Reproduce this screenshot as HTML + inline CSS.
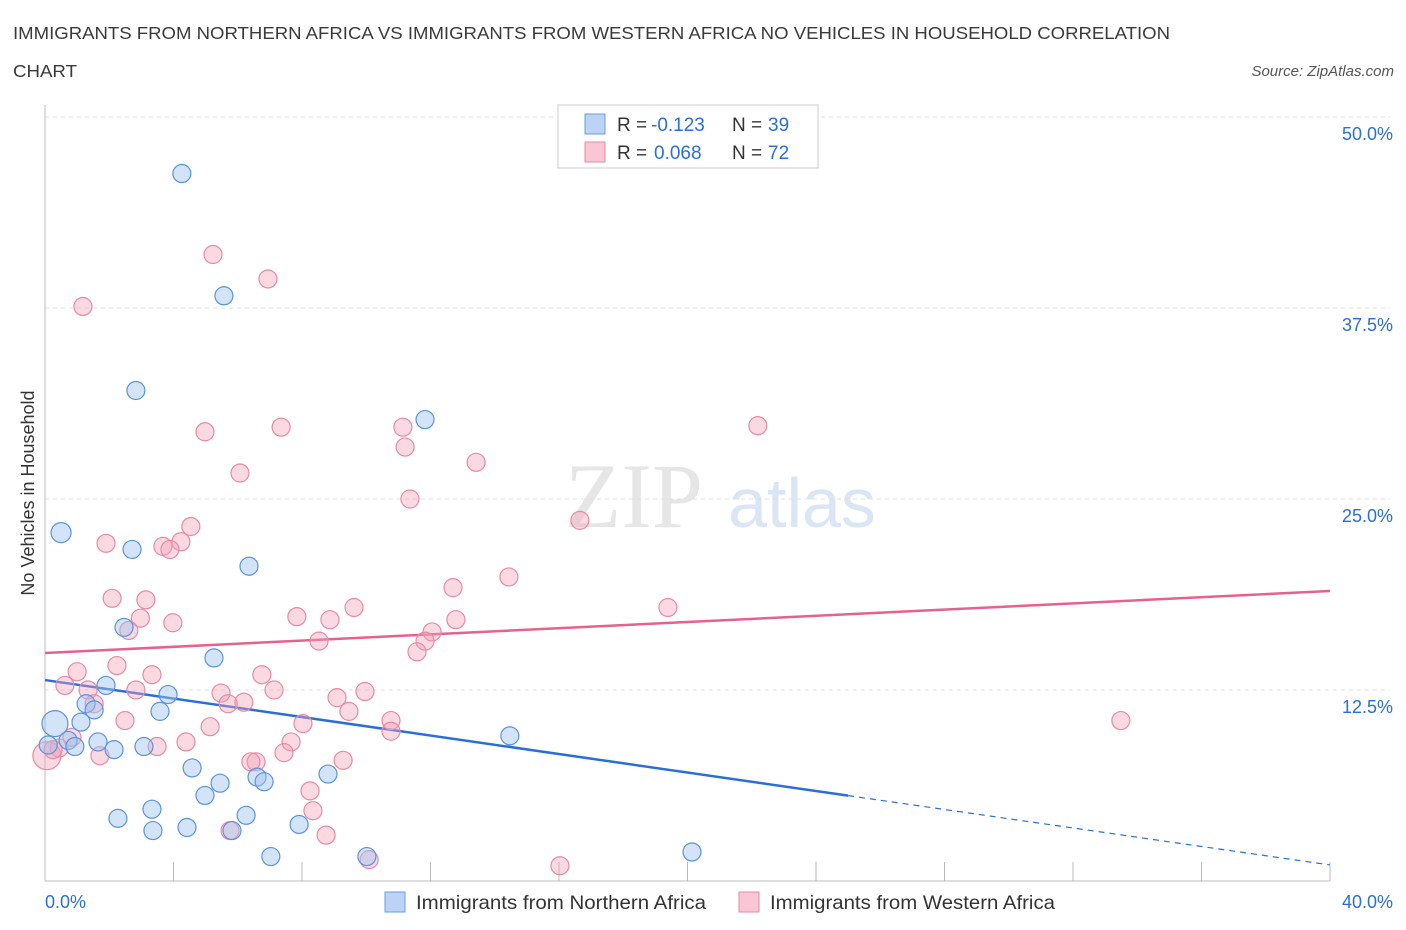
<!DOCTYPE html>
<html><head><meta charset="utf-8"><style>
body{margin:0;background:#fff;font-family:"Liberation Sans",sans-serif;}
svg{display:block}
</style></head><body>
<svg id="chart" width="1406" height="930">
<text x="13" y="39" font-size="17.5" fill="#3a3a3a" textLength="1157" lengthAdjust="spacingAndGlyphs">IMMIGRANTS FROM NORTHERN AFRICA VS IMMIGRANTS FROM WESTERN AFRICA NO VEHICLES IN HOUSEHOLD CORRELATION</text>
<text x="13" y="77" font-size="17.5" fill="#3a3a3a" textLength="64" lengthAdjust="spacingAndGlyphs">CHART</text>
<text x="1394" y="76" font-size="15" font-style="italic" fill="#555" text-anchor="end">Source: ZipAtlas.com</text>
<g>
<text x="634" y="527" font-size="92" font-family="Liberation Serif" fill="#e6e6e6" text-anchor="middle">ZIP</text>
<text x="802" y="527" font-size="70" fill="#dbe6f5" text-anchor="middle">atlas</text>
</g>
<g id="grid"></g>
<g id="axes"></g>
<g id="trends"></g>
<g id="points"></g>
<text transform="translate(34,493) rotate(-90)" font-size="18" fill="#333" text-anchor="middle">No Vehicles in Household</text>
<g>
<rect x="558" y="105" width="260" height="63" fill="#fff" stroke="#ccc"/>
<rect x="585" y="114" width="20" height="20" fill="#bcd3f5" stroke="#6a9de0"/>
<text x="617" y="131" font-size="19" fill="#333">R =</text>
<text x="651" y="131" font-size="19" fill="#2a6fd6">-0.123</text>
<text x="732" y="131" font-size="19" fill="#333">N =</text>
<text x="768" y="131" font-size="19" fill="#2a6fd6">39</text>
<rect x="585" y="142" width="20" height="20" fill="#f8c6d4" stroke="#e68aa5"/>
<text x="617" y="159" font-size="19" fill="#333">R =</text>
<text x="654" y="159" font-size="19" fill="#2a6fd6">0.068</text>
<text x="732" y="159" font-size="19" fill="#333">N =</text>
<text x="768" y="159" font-size="19" fill="#2a6fd6">72</text>
</g>
<g>
<rect x="385" y="892" width="20" height="20" fill="#bcd3f5" stroke="#6a9de0"/>
<text x="416" y="909" font-size="19.5" fill="#333" textLength="290" lengthAdjust="spacingAndGlyphs">Immigrants from Northern Africa</text>
<rect x="739" y="892" width="20" height="20" fill="#f8c6d4" stroke="#e68aa5"/>
<text x="770" y="909" font-size="19.5" fill="#333" textLength="285" lengthAdjust="spacingAndGlyphs">Immigrants from Western Africa</text>
</g>
</svg>
<script>
const blueX=[4.26,5.57,2.83,11.83,0.50,2.71,6.35,2.46,5.26,1.90,3.83,1.28,1.53,3.58,0.31,1.12,14.47,0.72,1.65,0.93,2.15,3.08,4.58,5.45,8.81,6.60,6.82,3.33,4.98,6.26,2.27,3.36,4.42,5.82,7.91,7.03,10.02,20.14,0.10];
const blueY=[46.3,38.3,32.1,30.2,22.8,21.7,20.6,16.6,14.6,12.8,12.2,11.6,11.2,11.1,10.3,10.4,9.5,9.2,9.1,8.8,8.6,8.8,7.4,6.4,7.0,6.8,6.5,4.7,5.6,4.3,4.1,3.3,3.5,3.3,3.7,1.6,1.6,1.9,8.9];
const blueSize=[9,9,9,9,10,9,9,9,9,9,9,9,9,9,13,9,9,9,9,9,9,9,9,9,9,9,9,9,9,9,9,9,9,9,9,9,9,9,9];
const pinkX=[5.23,6.94,1.18,4.98,7.35,11.14,22.19,11.21,13.42,6.07,11.36,16.65,4.54,1.90,4.23,3.67,3.89,14.44,12.70,2.09,3.14,19.39,9.62,7.84,2.97,8.87,12.79,3.98,2.61,12.05,8.53,11.83,11.58,2.24,1.00,3.33,6.75,0.62,1.34,2.83,7.13,5.48,9.96,9.09,6.19,5.70,1.53,9.46,2.49,5.14,8.03,10.77,10.77,33.49,0.84,4.39,7.66,3.49,0.06,0.44,1.71,7.44,6.57,6.41,9.28,8.25,8.34,5.76,8.75,10.09,16.03,0.25];
const pinkY=[41.0,39.4,37.6,29.4,29.7,29.7,29.8,28.4,27.4,26.7,25.0,23.6,23.2,22.1,22.2,21.9,21.7,19.9,19.2,18.5,18.4,17.9,17.9,17.3,17.2,17.1,17.1,16.9,16.4,16.3,15.7,15.7,15.0,14.1,13.7,13.5,13.5,12.8,12.5,12.5,12.5,12.3,12.4,12.0,11.7,11.6,11.6,11.1,10.5,10.1,10.3,10.5,9.8,10.5,9.4,9.1,9.1,8.8,8.2,8.7,8.2,8.4,7.8,7.8,7.9,5.9,4.6,3.3,3.0,1.4,1.0,8.6];
const blueTrend=[13.15,1.05];
const blueSolidEnd=25.0;
const pinkTrend=[14.92,18.98];
const yTicks=[12.5,25,37.5,50];
const yTickLabels=["12.5%","25.0%","37.5%","50.0%"];
const xTicks=[0,4,8,12,16,20,24,28,32,36,40];
const xTickLabels=["0.0%","40.0%"];

const NS="http://www.w3.org/2000/svg";
const X0=45,X1=1330,Y0=881,Y1=117;
const sx=v=>X0+(v/40)*(X1-X0);
const sy=v=>Y0-(v/50)*(Y0-Y1);
function mk(tag,attrs,parent){const e=document.createElementNS(NS,tag);for(const k in attrs)e.setAttribute(k,attrs[k]);parent.appendChild(e);return e;}
const grid=document.getElementById('grid'),axes=document.getElementById('axes'),trends=document.getElementById('trends'),pts=document.getElementById('points');
yTicks.forEach((t,i)=>{
  const l=mk('line',{x1:X0,x2:X1+60,y1:sy(t),y2:sy(t),stroke:'#e0e0e0','stroke-dasharray':'4,4'},grid);
  
  
  const tx=mk('text',{x:1393,y:sy(t)+23,'font-size':18,fill:'#2a6fd6','text-anchor':'end'},grid);
  tx.textContent=yTickLabels[i];
  
  
});
const ya=mk('line',{x1:X0,x2:X0,y1:105,y2:Y0,stroke:'#bbb'},axes);


const xa=mk('line',{x1:X0,x2:X1,y1:Y0,y2:Y0,stroke:'#bbb'},axes);


xTicks.forEach(t=>{
  const l=mk('line',{x1:sx(t),x2:sx(t),y1:862,y2:Y0,stroke:'#bbb'},axes);
  
  
});
const xl0=mk('text',{x:45,y:908,'font-size':18,fill:'#2a6fd6'},axes);
xl0.textContent=xTickLabels[0];


const xl1=mk('text',{x:1393,y:908,'font-size':18,fill:'#2a6fd6','text-anchor':'end'},axes);
xl1.textContent=xTickLabels[1];



pinkX.forEach((x,i)=>{
  const c=mk('circle',{cx:sx(x),cy:sy(pinkY[i]),r:(i==58?14:9),fill:'rgba(244,160,186,0.4)',stroke:'#e88aa7','stroke-width':1.2},pts);
  
  
});
blueX.forEach((x,i)=>{
  const c=mk('circle',{cx:sx(x),cy:sy(blueY[i]),r:blueSize[i],fill:'rgba(160,196,240,0.45)',stroke:'#5b93dc','stroke-width':1.2},pts);
  
  
});
const bAt=x=>blueTrend[0]+(blueTrend[1]-blueTrend[0])*x/40;
const pt=mk('line',{x1:sx(0),y1:sy(pinkTrend[0]),x2:sx(40),y2:sy(pinkTrend[1]),stroke:'#e4628c','stroke-width':2.5},trends);


const bt=mk('line',{x1:sx(0),y1:sy(bAt(0)),x2:sx(blueSolidEnd),y2:sy(bAt(blueSolidEnd)),stroke:'#2a6fd6','stroke-width':2.5},trends);


const bd=mk('line',{x1:sx(blueSolidEnd),y1:sy(bAt(blueSolidEnd)),x2:sx(40),y2:sy(bAt(40)),stroke:'#2a6fd6','stroke-width':1.2,'stroke-dasharray':'6,5'},trends);


</script>
</body></html>
